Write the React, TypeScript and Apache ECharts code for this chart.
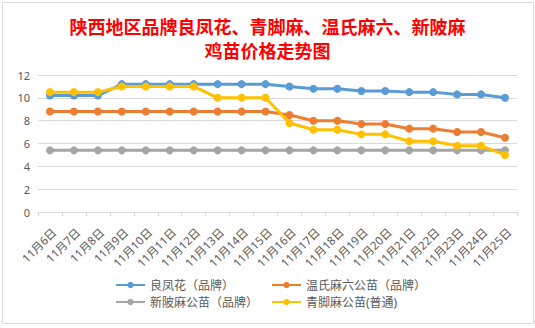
import React, { useEffect, useRef } from "react";
import * as echarts from "echarts";

const categories = [
  "11月6日", "11月7日", "11月8日", "11月9日", "11月10日", "11月11日", "11月12日",
  "11月13日", "11月14日", "11月15日", "11月16日", "11月17日", "11月18日", "11月19日",
  "11月20日", "11月21日", "11月22日", "11月23日", "11月24日", "11月25日",
];

const liangfenghua = [10.2, 10.2, 10.2, 11.2, 11.2, 11.2, 11.2, 11.2, 11.2, 11.2, 11.0, 10.8, 10.8, 10.6, 10.6, 10.5, 10.5, 10.3, 10.3, 10.0];
const wenshi = [8.8, 8.8, 8.8, 8.8, 8.8, 8.8, 8.8, 8.8, 8.8, 8.8, 8.5, 8.0, 8.0, 7.7, 7.7, 7.3, 7.3, 7.0, 7.0, 6.5];
const xinbei = [5.4, 5.4, 5.4, 5.4, 5.4, 5.4, 5.4, 5.4, 5.4, 5.4, 5.4, 5.4, 5.4, 5.4, 5.4, 5.4, 5.4, 5.4, 5.4, 5.4];
const qingjiao = [10.5, 10.5, 10.5, 11.0, 11.0, 11.0, 11.0, 10.0, 10.0, 10.0, 7.8, 7.2, 7.2, 6.8, 6.8, 6.2, 6.2, 5.8, 5.8, 5.0];

const seriesNames = ["良凤花（品牌）", "温氏麻六公苗（品牌）", "新陂麻公苗（品牌）", "青脚麻公苗(普通)"];
const seriesData = [liangfenghua, wenshi, xinbei, qingjiao];
const colors = ["#5B9BD5", "#ED7D31", "#A5A5A5", "#FFC000"];

const titleLines = "陕西地区品牌良凤花、青脚麻、温氏麻六、新陂麻\n鸡苗价格走势图";

const FONT = "'Noto Sans', 'Noto Sans CJK SC', sans-serif";

export default function App() {
  const ref = useRef<HTMLDivElement>(null);
  useEffect(() => {
    document.body.style.margin = "0";
    const chart = echarts.init(ref.current!, null, { renderer: "svg" });
    const legendPos = [
      { left: 115, top: 279 },
      { left: 271, top: 279 },
      { left: 115, top: 296 },
      { left: 271, top: 296 },
    ];
    chart.setOption({
      animation: false,
      backgroundColor: "#ffffff",
      title: {
        text: titleLines,
        left: "center",
        top: 9,
        textStyle: {
          color: "#FF0000",
          fontSize: 18,
          fontWeight: "bold",
          fontFamily: "'Noto Sans CJK SC', serif",
          lineHeight: 24,
        },
      },
      graphic: [
        {
          type: "rect",
          shape: { x: 2.5, y: 2.5, width: 531, height: 321 },
          style: { fill: "none", stroke: "#d9d9d9", lineWidth: 1 },
          silent: true,
        },
      ],
      legend: seriesNames.map((n, i) => ({
        data: [n],
        left: legendPos[i].left,
        top: legendPos[i].top,
        padding: 0,
        itemWidth: 29,
        itemHeight: 8,
        textStyle: { color: "#595959", fontSize: 12, fontFamily: FONT },
      })),
      grid: { left: 38, right: 18, top: 75, bottom: 116 },
      xAxis: {
        type: "category",
        data: categories,
        boundaryGap: true,
        axisLine: { lineStyle: { color: "#d9d9d9", width: 1 } },
        axisTick: { show: true, length: 4, lineStyle: { color: "#d9d9d9" } },
        axisLabel: {
          interval: 0,
          rotate: 45,
          margin: 14,
          verticalAlign: "top",
          color: "#595959",
          fontSize: 11.5,
          fontFamily: FONT,
        },
      },
      yAxis: {
        type: "value",
        min: 0,
        max: 12,
        interval: 2,
        axisLine: { show: false },
        axisTick: { show: false },
        axisLabel: { color: "#595959", fontSize: 11, margin: 8, fontFamily: FONT },
        splitLine: { lineStyle: { color: "#d9d9d9", width: 1 } },
      },
      series: seriesNames.map((n, i) => ({
        name: n,
        type: "line",
        data: seriesData[i],
        color: colors[i],
        symbol: "circle",
        symbolSize: 8,
        lineStyle: { width: 3, color: colors[i] },
        itemStyle: { color: colors[i] },
        z: 2 + i,
      })),
    });
    return () => chart.dispose();
  }, []);
  return <div ref={ref} style={{ position: "fixed", left: 0, top: 0, width: 535, height: 328 }} />;
}
